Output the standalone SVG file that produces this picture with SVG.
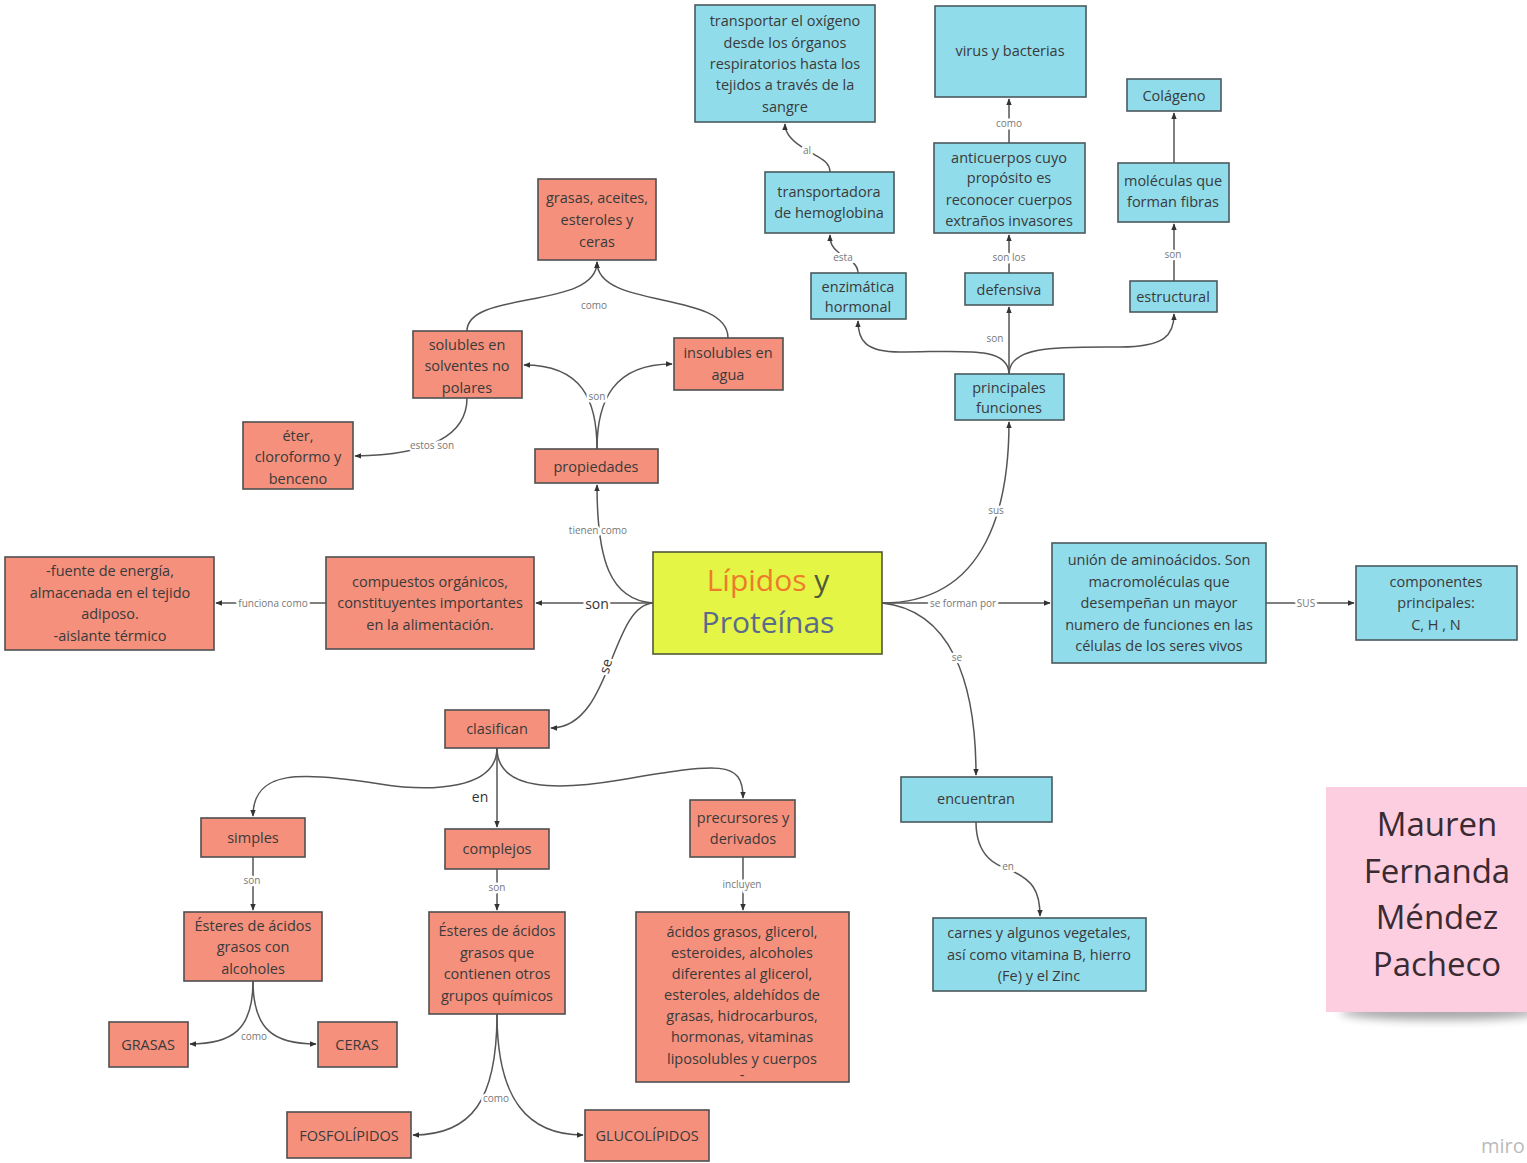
<svg xmlns="http://www.w3.org/2000/svg" width="1527" height="1163" viewBox="0 0 1527 1163">
<defs>
<marker id="ah" viewBox="0 0 10 10" refX="9" refY="5" markerWidth="7" markerHeight="7" orient="auto-start-reverse" markerUnits="userSpaceOnUse">
<path d="M0,1 L10,5 L0,9 z" fill="#333"/>
</marker>
<filter id="blur" x="-20%" y="-50%" width="140%" height="200%"><feGaussianBlur stdDeviation="5"/></filter>
</defs>
<style>
text{font-family:"Open Sans","Liberation Sans",sans-serif;}
.s rect{fill:#F4907C;stroke:#4f4f4f;stroke-width:1.6;}
.b rect{fill:#90DCEA;stroke:#4a5a5e;stroke-width:1.6;}
.n text{font-size:14.5px;fill:#3a3a3a;text-anchor:middle;dominant-baseline:central;}
.c path{fill:none;stroke:#555;stroke-width:1.5;marker-end:url(#ah);}
.l{font-size:10px;fill:#777;text-anchor:middle;dominant-baseline:central;stroke:#fff;stroke-width:5px;paint-order:stroke;stroke-linejoin:round;}
.lb{font-size:14px;fill:#333;}
</style>
<rect width="1527" height="1163" fill="#fff"/>

<g id="connectors" class="c">
<path d="M653,603 L536,603"/>
<path d="M326,603 L216,603"/>
<path d="M653,603 C610,600 597,560 597,485"/>
<path d="M653,603 C610,606 612,728 551,728"/>
<path d="M882,603 L1050,603"/>
<path d="M882,603 C990,603 1009,500 1009,422"/>
<path d="M882,603 C950,610 976,680 976,775"/>
<path d="M1266,603 L1354,603"/>
<path d="M1009,374 C1009,345 960,352 900,352 C865,352 858,340 858,321"/>
<path d="M1009,374 L1009,307"/>
<path d="M1009,374 C1009,345 1060,347 1120,347 C1165,347 1174,335 1174,314"/>
<path d="M858,273 C858,262 845,258 838,252 C832,247 830,243 830,235"/>
<path d="M830,172 C830,160 815,156 807,150 C796,144 785,136 785,124"/>
<path d="M1009,273 L1009,235"/>
<path d="M1009,143 L1009,99"/>
<path d="M1174,281 L1174,224"/>
<path d="M1174,163 L1174,113"/>
<path d="M597,449 C597,400 582,365 524,365"/>
<path d="M597,449 C597,400 614,364 672,364"/>
<path d="M467,331 C467,290 597,310 597,262"/>
<path d="M728,338 C728,290 597,310 597,262"/>
<path d="M467,398 C467,440 420,455 355,456"/>
<path d="M497,748 C497,790 430,792 380,784 C300,771 253,770 253,816"/>
<path d="M497,748 L497,827"/>
<path d="M497,748 C497,792 560,790 620,780 C720,763 743,760 743,798"/>
<path d="M253,857 L253,910"/>
<path d="M497,869 L497,910"/>
<path d="M743,857 L743,910"/>
<path d="M253,981 C253,1030 232,1044 190,1044"/>
<path d="M253,981 C253,1030 274,1044 316,1044"/>
<path d="M497,1014 C497,1100 472,1135 413,1135"/>
<path d="M497,1014 C497,1100 528,1135 583,1135"/>
<path d="M976,822 C976,858 998,866 1010,870 C1032,880 1040,890 1040,916"/>
<text class="l lb" x="597" y="603">son</text>
<text class="l" x="273" y="603">funciona como</text>
<text class="l" x="598" y="530">tienen como</text>
<text class="l lb" x="605" y="666" transform="rotate(-75 605 666)">se</text>
<text class="l" x="963" y="603">se forman por</text>
<text class="l" x="996" y="510">sus</text>
<text class="l" x="957" y="657">se</text>
<text class="l" x="1306" y="603">SUS</text>
<text class="l" x="995" y="338">son</text>
<text class="l" x="843" y="257">esta</text>
<text class="l" x="807" y="150">al</text>
<text class="l" x="1009" y="257">son los</text>
<text class="l" x="1009" y="123">como</text>
<text class="l" x="1173" y="254">son</text>
<text class="l" x="597" y="396">son</text>
<text class="l" x="594" y="305">como</text>
<text class="l" x="432" y="445">estos son</text>
<text class="l lb" x="480" y="796">en</text>
<text class="l" x="252" y="880">son</text>
<text class="l" x="497" y="887">son</text>
<text class="l" x="742" y="884">incluyen</text>
<text class="l" x="254" y="1036">como</text>
<text class="l" x="496" y="1098">como</text>
<text class="l" x="1008" y="866">en</text>
</g>

<g id="central" class="n">
<rect x="653" y="552" width="229" height="102" fill="#E4F545" stroke="#4f5a3a" stroke-width="1.6"/>
<text x="768" y="579" style="font-size:30px"><tspan fill="#EE7B2A">Lípidos</tspan><tspan fill="#4f5a3a"> y</tspan></text>
<text x="768" y="621" style="font-size:30px;fill:#5a6a8c">Proteínas</text>
</g>

<g id="n-transportar" class="n b"><rect x="695" y="5" width="180" height="117"/>
<text x="785" y="20">transportar el oxígeno</text><text x="785" y="42">desde los órganos</text><text x="785" y="63">respiratorios hasta los</text><text x="785" y="84">tejidos a través de la</text><text x="785" y="106">sangre</text></g>
<g id="n-virus" class="n b"><rect x="935" y="6" width="151" height="91"/><text x="1010" y="50">virus y bacterias</text></g>
<g id="n-colageno" class="n b"><rect x="1127" y="79" width="94" height="32"/><text x="1174" y="95">Colágeno</text></g>
<g id="n-transportadora" class="n b"><rect x="765" y="172" width="129" height="61"/><text x="829" y="191">transportadora</text><text x="829" y="212">de hemoglobina</text></g>
<g id="n-anticuerpos" class="n b"><rect x="934" y="143" width="151" height="90"/><text x="1009" y="157">anticuerpos cuyo</text><text x="1009" y="177">propósito es</text><text x="1009" y="199">reconocer cuerpos</text><text x="1009" y="220">extraños invasores</text></g>
<g id="n-moleculas" class="n b"><rect x="1118" y="163" width="111" height="59"/><text x="1173" y="180">moléculas que</text><text x="1173" y="201">forman fibras</text></g>
<g id="n-enzimatica" class="n b"><rect x="811" y="273" width="95" height="46"/><text x="858" y="286">enzimática</text><text x="858" y="306">hormonal</text></g>
<g id="n-defensiva" class="n b"><rect x="965" y="273" width="88" height="32"/><text x="1009" y="289">defensiva</text></g>
<g id="n-estructural" class="n b"><rect x="1130" y="281" width="87" height="31"/><text x="1173" y="296">estructural</text></g>
<g id="n-principales" class="n b"><rect x="955" y="374" width="109" height="46"/><text x="1009" y="387">principales</text><text x="1009" y="407">funciones</text></g>
<g id="n-union" class="n b"><rect x="1052" y="543" width="214" height="120"/><text x="1159" y="559">unión de aminoácidos. Son</text><text x="1159" y="581">macromoléculas que</text><text x="1159" y="602">desempeñan un mayor</text><text x="1159" y="624">numero de funciones en las</text><text x="1159" y="645">células de los seres vivos</text></g>
<g id="n-componentes" class="n b"><rect x="1356" y="566" width="161" height="74"/><text x="1436" y="581">componentes</text><text x="1436" y="602">principales:</text><text x="1436" y="624">C, H , N</text></g>
<g id="n-encuentran" class="n b"><rect x="901" y="777" width="151" height="45"/><text x="976" y="798">encuentran</text></g>
<g id="n-carnes" class="n b"><rect x="933" y="918" width="213" height="73"/><text x="1039" y="932">carnes y algunos vegetales,</text><text x="1039" y="954">así como vitamina B, hierro</text><text x="1039" y="975">(Fe) y el Zinc</text></g>

<g id="n-grasasaceites" class="n s"><rect x="538" y="179" width="118" height="81"/><text x="597" y="197">grasas, aceites,</text><text x="597" y="219">esteroles y</text><text x="597" y="241">ceras</text></g>
<g id="n-solubles" class="n s"><rect x="413" y="331" width="109" height="67"/><text x="467" y="344">solubles en</text><text x="467" y="365">solventes no</text><text x="467" y="387">polares</text></g>
<g id="n-insolubles" class="n s"><rect x="674" y="338" width="109" height="52"/><text x="728" y="352">insolubles en</text><text x="728" y="374">agua</text></g>
<g id="n-eter" class="n s"><rect x="243" y="422" width="110" height="67"/><text x="298" y="435">éter,</text><text x="298" y="456">cloroformo y</text><text x="298" y="478">benceno</text></g>
<g id="n-propiedades" class="n s"><rect x="535" y="449" width="123" height="34"/><text x="596" y="466">propiedades</text></g>
<g id="n-fuente" class="n s"><rect x="5" y="557" width="209" height="93"/><text x="110" y="570">-fuente de energía,</text><text x="110" y="592">almacenada en el tejido</text><text x="110" y="613">adiposo.</text><text x="110" y="635">-aislante térmico</text></g>
<g id="n-compuestos" class="n s"><rect x="326" y="557" width="208" height="92"/><text x="430" y="581">compuestos orgánicos,</text><text x="430" y="602">constituyentes importantes</text><text x="430" y="624">en la alimentación.</text></g>
<g id="n-clasifican" class="n s"><rect x="445" y="710" width="104" height="38"/><text x="497" y="728">clasifican</text></g>
<g id="n-simples" class="n s"><rect x="201" y="818" width="104" height="39"/><text x="253" y="837">simples</text></g>
<g id="n-complejos" class="n s"><rect x="445" y="829" width="104" height="40"/><text x="497" y="848">complejos</text></g>
<g id="n-precursores" class="n s"><rect x="690" y="800" width="105" height="57"/><text x="743" y="817">precursores y</text><text x="743" y="838">derivados</text></g>
<g id="n-esteres1" class="n s"><rect x="184" y="912" width="138" height="69"/><text x="253" y="925">Ésteres de ácidos</text><text x="253" y="946">grasos con</text><text x="253" y="968">alcoholes</text></g>
<g id="n-esteres2" class="n s"><rect x="429" y="912" width="136" height="102"/><text x="497" y="930">Ésteres de ácidos</text><text x="497" y="952">grasos que</text><text x="497" y="973">contienen otros</text><text x="497" y="995">grupos químicos</text></g>
<g id="n-acidos" class="n s"><rect x="636" y="912" width="213" height="170"/><text x="742" y="931">ácidos grasos, glicerol,</text><text x="742" y="952">esteroides, alcoholes</text><text x="742" y="973">diferentes al glicerol,</text><text x="742" y="994">esteroles, aldehídos de</text><text x="742" y="1015">grasas, hidrocarburos,</text><text x="742" y="1036">hormonas, vitaminas</text><text x="742" y="1058">liposolubles y cuerpos</text><text x="742" y="1074">-</text></g>
<g id="n-grasas" class="n s"><rect x="109" y="1022" width="79" height="45"/><text x="148" y="1044">GRASAS</text></g>
<g id="n-ceras" class="n s"><rect x="318" y="1022" width="79" height="45"/><text x="357" y="1044">CERAS</text></g>
<g id="n-fosfolipidos" class="n s"><rect x="287" y="1112" width="124" height="46"/><text x="349" y="1135">FOSFOLÍPIDOS</text></g>
<g id="n-glucolipidos" class="n s"><rect x="585" y="1110" width="124" height="51"/><text x="647" y="1135">GLUCOLÍPIDOS</text></g>

<g id="sticky-note">
<ellipse cx="1440" cy="1012" rx="100" ry="8" fill="#000" opacity="0.35" filter="url(#blur)"/>
<rect x="1326" y="787" width="201" height="225" fill="#FCCEDF"/>
<g style="font-size:33px;fill:#3a2a32;text-anchor:middle;dominant-baseline:central">
<text x="1437" y="823">Mauren</text><text x="1437" y="870">Fernanda</text><text x="1437" y="916">Méndez</text><text x="1437" y="963">Pacheco</text>
</g>
</g>
<text x="1481" y="1153" style="font-size:20px;fill:#bbb">miro</text>
</svg>
